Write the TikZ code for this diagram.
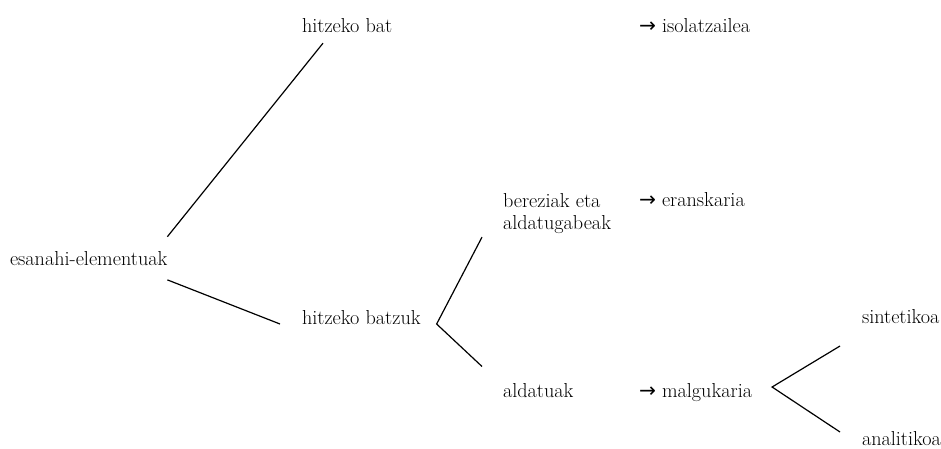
\documentclass[tikz,border=0pt]{standalone}
\usepackage{fontspec}
\newfontfamily\symf{DejaVu Sans}
\newcommand{\rarr}{{\symf →}}
\begin{document}
\begin{tikzpicture}[x=1pt,y=-1pt,
  lbl/.style={inner sep=0pt,outer sep=0pt,anchor=base west,font=\rmfamily\fontsize{20.2}{22}\selectfont,text=black},
  con/.style={line width=1.2pt,black}]
\useasboundingbox[fill=white] (0,0) rectangle (941,448);
\node[lbl] (E) at (10,265.7) {esanahi-elementuak};
\node[lbl] (HB) at (302,32) {hitzeko bat};
\node[lbl] (HZ) at (302,324) {hitzeko batzuk};
\node[lbl] (I) at (639,32) {\rarr\ isolatzailea};
\node[lbl,align=left] (B) at (503,229) {bereziak eta\\aldatugabeak};
\node[lbl] (ER) at (639,206.7) {\rarr\ eranskaria};
\node[lbl] (A) at (503,397) {aldatuak};
\node[lbl] (M) at (639,397) {\rarr\ malgukaria};
\node[lbl] (S) at (862,323) {sintetikoa};
\node[lbl] (AN) at (862,445) {analitikoa};
\draw[con] ([yshift=15pt]E.north east) -- ([shift={(21pt,-11pt)}]HB.south west);
\draw[con] ([yshift=-14pt]E.south east) -- ([xshift=-22pt]HZ.base west);
\draw[con] ([shift={(-21pt,-4pt)}]B.south west) -- ([xshift=16pt]HZ.base east) -- ([shift={(-21pt,16.5pt)}]A.north west);
\draw[con] ([shift={(-22pt,-23pt)}]S.base west) -- ([shift={(20pt,10pt)}]M.base east) -- ([shift={(-22pt,13pt)}]AN.base west);
\end{tikzpicture}
\end{document}
